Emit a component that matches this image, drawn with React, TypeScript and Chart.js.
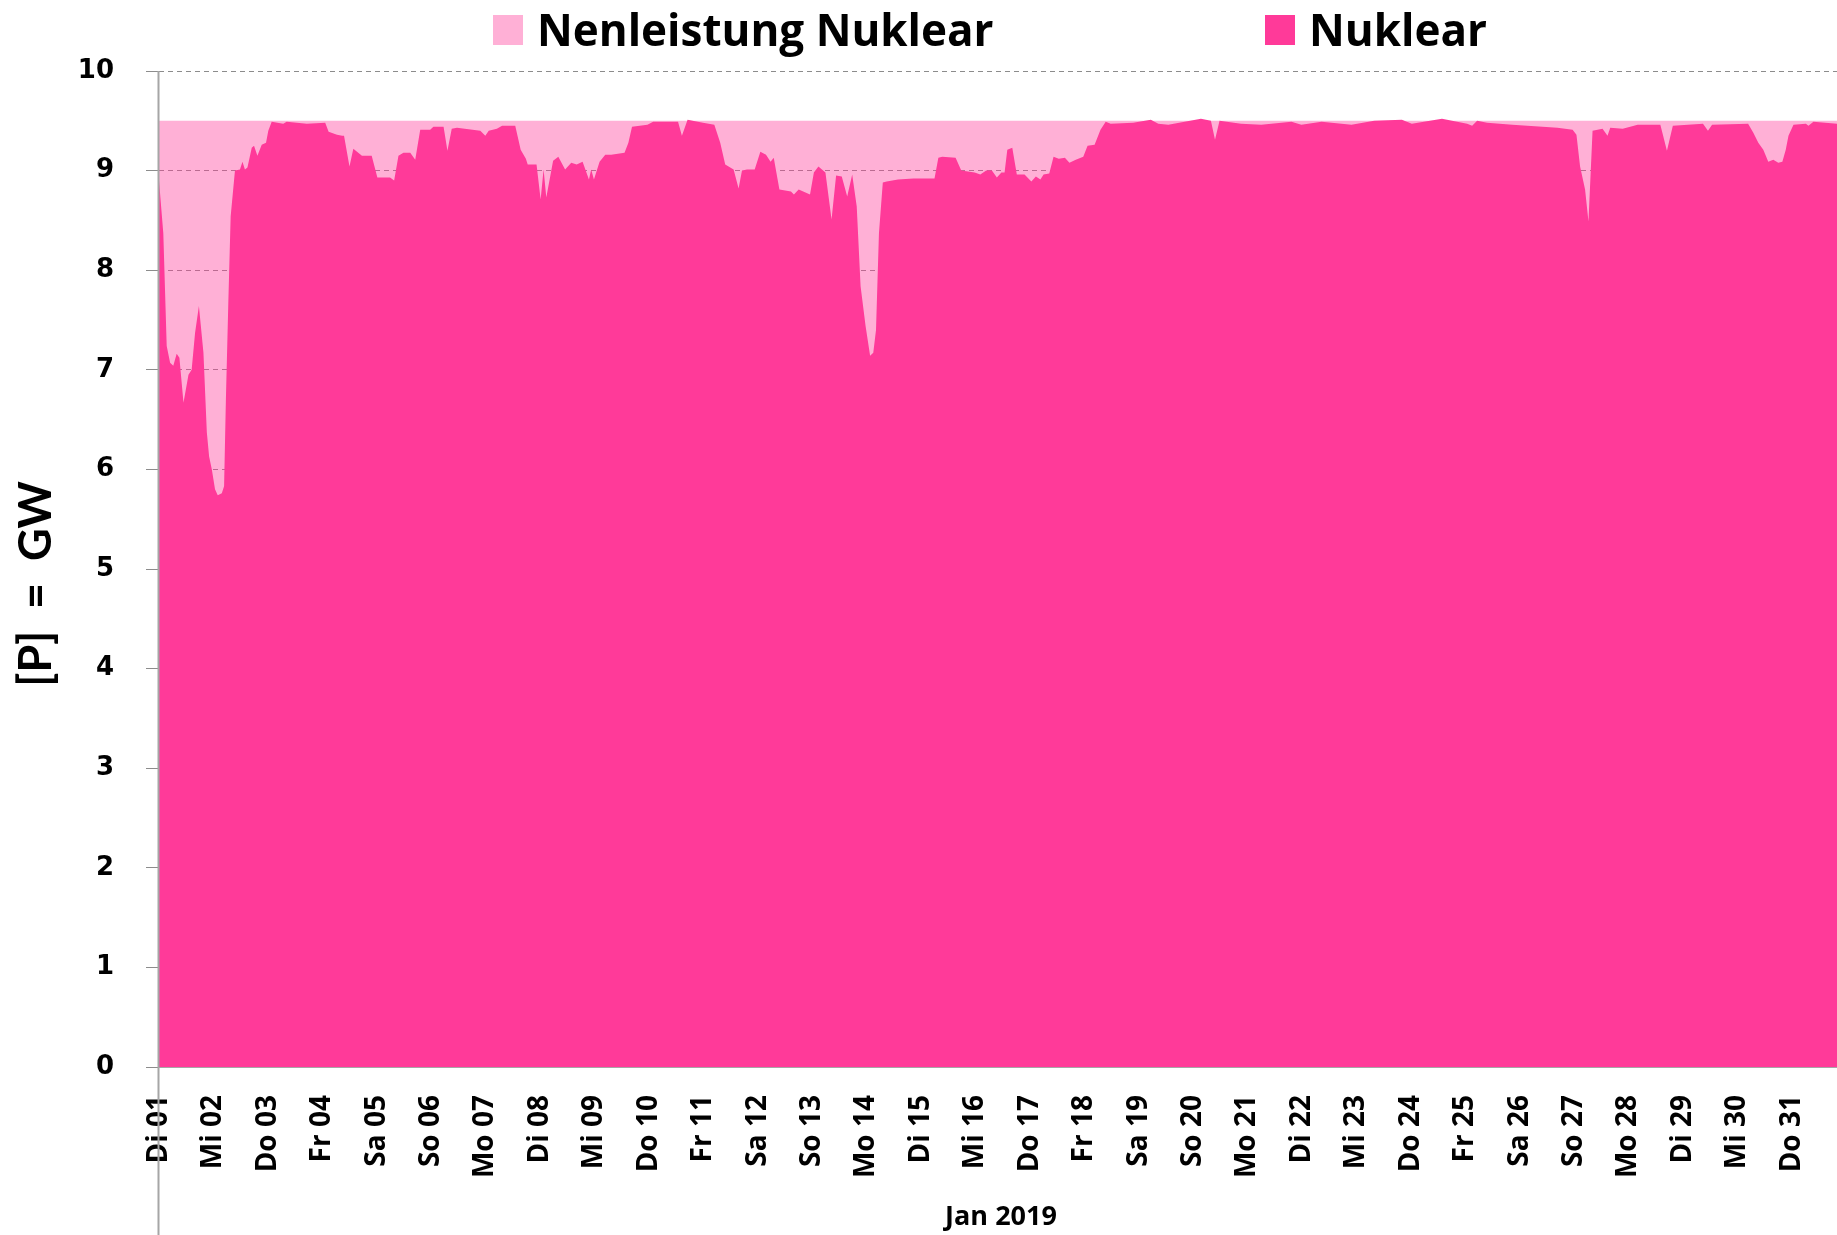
import React, { useEffect, useRef } from "react";
import { Chart, registerables } from "chart.js";

Chart.register(...registerables);

// hours since 2019-01-01 00:00
const hours = [
  0, 1.9, 3.4, 4.9, 6.3, 7.8, 9.0, 10.8, 13.0, 14.4, 15.9, 17.6, 19.6, 21.1, 22.1, 23.3, 24.7, 25.9, 27.7, 28.7,
  29.5, 30.6, 31.6, 33.5, 35.7, 36.8, 37.9, 39.0, 40.9, 41.9, 43.4, 45.3, 47.2, 48.2, 49.7, 54.8, 56.3, 65.2, 73.3, 74.8,
  78.5, 80.8, 81.6, 84.0, 85.7, 89.5, 93.8, 96.3, 101.9, 103.7, 105.6, 107.8, 110.8, 113.0, 115.2, 119.6, 121.0, 125.5, 127.2, 129.1,
  131.4, 141.7, 143.9, 145.4, 149.0, 151.3, 157.1, 159.5, 161.8, 162.6, 166.5, 168.3, 169.6, 170.8, 173.8, 176.1, 179.1, 181.8, 184.2, 186.8,
  189.6, 190.6, 191.8, 194.3, 196.8, 199.4, 205.3, 207.0, 208.6, 215.4, 217.9, 228.9, 230.6, 233.1, 239.9, 244.9, 247.5, 249.7, 253.4, 255.6,
  257.1, 259.3, 262.7, 265.2, 267.7, 269.7, 271.1, 273.6, 278.7, 280.0, 282.1, 287.1, 288.8, 290.8, 293.9, 296.6, 298.6, 301.1, 303.5, 305.7,
  307.7, 309.4, 311.6, 313.6, 315.0, 316.2, 317.5, 319.2, 320.9, 325.9, 332.7, 342.0, 343.7, 345.4, 351.3, 353.8, 359.7, 362.2, 364.8, 367.3,
  369.5, 371.5, 372.9, 374.1, 376.3, 378.3, 381.7, 384.7, 386.7, 388.7, 390.1, 392.6, 394.5, 396.8, 399.5, 401.5, 404.3, 407.6, 409.5, 412.6,
  415.2, 417.5, 419.7, 429.6, 437.4, 440.7, 445.1, 459.5, 463.9, 465.7, 467.7, 477.2, 486.1, 499.4, 503.8, 512.7, 525.9, 535.9, 548.1, 552.5,
  565.8, 576.9, 579.1, 581.3, 585.7, 596.8, 610.1, 616.7, 623.4, 625.1, 626.7, 628.9, 630.4, 632.2, 636.6, 638.8, 640.0, 645.5, 652.1, 662.1,
  665.0, 667.6, 680.9, 683.1, 684.9, 700.8, 703.1, 705.3, 707.5, 709.7, 711.9, 714.1, 715.9, 717.4, 718.6, 720.8, 726.3, 727.4, 729.6, 740.0,
];

// Nuklear in GW
const nuklear = [
  8.9, 8.37, 7.24, 7.07, 7.04, 7.16, 7.12, 6.67, 6.95, 7.0, 7.37, 7.64, 7.17, 6.37, 6.13, 6.0, 5.8, 5.74, 5.76, 5.83,
  6.7, 7.7, 8.54, 9.0, 9.01, 9.09, 9.01, 9.03, 9.23, 9.25, 9.15, 9.26, 9.28, 9.4, 9.49, 9.47, 9.49, 9.47, 9.48, 9.39,
  9.36, 9.35, 9.35, 9.04, 9.22, 9.15, 9.15, 8.93, 8.93, 8.9, 9.15, 9.18, 9.18, 9.11, 9.41, 9.41, 9.44, 9.44, 9.2, 9.42,
  9.43, 9.4, 9.35, 9.4, 9.42, 9.45, 9.45, 9.21, 9.12, 9.06, 9.06, 8.71, 9.01, 8.73, 9.1, 9.14, 9.01, 9.08, 9.06, 9.09,
  8.91, 9.01, 8.91, 9.09, 9.16, 9.16, 9.18, 9.28, 9.44, 9.46, 9.49, 9.49, 9.35, 9.51, 9.48, 9.46, 9.28, 9.06, 9.01, 8.82,
  9.0, 9.01, 9.01, 9.19, 9.16, 9.09, 9.13, 8.81, 8.79, 8.76, 8.81, 8.76, 8.98, 9.04, 8.98, 8.51, 8.95, 8.94, 8.74, 8.96,
  8.64, 7.84, 7.44, 7.14, 7.17, 7.4, 8.37, 8.88, 8.89, 8.91, 8.92, 8.92, 9.13, 9.14, 9.13, 9.0, 8.98, 8.96, 9.0, 9.0,
  8.93, 8.98, 8.98, 9.21, 9.23, 8.96, 8.96, 8.89, 8.94, 8.91, 8.96, 8.97, 9.14, 9.12, 9.13, 9.08, 9.11, 9.14, 9.25, 9.26,
  9.41, 9.49, 9.47, 9.48, 9.51, 9.47, 9.46, 9.52, 9.5, 9.31, 9.5, 9.47, 9.46, 9.49, 9.46, 9.49, 9.46, 9.5, 9.51, 9.47,
  9.52, 9.47, 9.45, 9.5, 9.48, 9.46, 9.44, 9.43, 9.41, 9.36, 9.04, 8.81, 8.49, 9.4, 9.42, 9.35, 9.43, 9.42, 9.46, 9.46,
  9.2, 9.45, 9.47, 9.4, 9.46, 9.47, 9.38, 9.28, 9.21, 9.09, 9.11, 9.08, 9.09, 9.21, 9.35, 9.46, 9.47, 9.45, 9.49, 9.47,
];

// Nennleistung (installed capacity), constant
const nennHours = [0, 740];
const nennleistung = [9.5, 9.5];

const dayTicks = [
  0, 24, 48, 72, 96, 120, 144, 168, 192, 216, 240, 264, 288, 312, 336, 360,
  384, 408, 432, 456, 480, 504, 528, 552, 576, 600, 624, 648, 672, 696, 720,
];
const dayLabels = [
  "Di 01", "Mi 02", "Do 03", "Fr 04", "Sa 05", "So 06", "Mo 07", "Di 08", "Mi 09", "Do 10", "Fr 11",
  "Sa 12", "So 13", "Mo 14", "Di 15", "Mi 16", "Do 17", "Fr 18", "Sa 19", "So 20", "Mo 21", "Di 22",
  "Mi 23", "Do 24", "Fr 25", "Sa 26", "So 27", "Mo 28", "Di 29", "Mi 30", "Do 31",
];

const legendLabels = ["Nenleistung Nuklear", "Nuklear"];
const xTitle = "Jan 2019";
const yTitle = "[P]  =  GW";

const W = 1837;
const H = 1235;
const DARK = "#FF3A99";
const LIGHT_FILL = "rgba(255,58,153,0.4)";
const LIGHT_SOLID = "#FFB0D6";
const LABEL_FONT = "'Open Sans', Lato, sans-serif";
const TITLE_FONT = "Lato, 'Open Sans', sans-serif";

const overlay = {
  id: "overlay",
  afterDatasetsDraw(chart: any) {
    const { ctx, chartArea } = chart;
    ctx.save();
    ctx.strokeStyle = "#a6a6a6";
    ctx.lineWidth = 2;
    ctx.beginPath();
    ctx.moveTo(chartArea.left - 0.5, chartArea.top);
    ctx.lineTo(chartArea.left - 0.5, H);
    ctx.stroke();
    ctx.restore();
  },
  afterDraw(chart: any) {
    const { ctx } = chart;
    ctx.save();
    ctx.fillStyle = "#000";
    // y title
    ctx.font = `bold 45px ${TITLE_FONT}`;
    ctx.textAlign = "center";
    ctx.textBaseline = "middle";
    ctx.translate(36, 584);
    ctx.rotate(-Math.PI / 2);
    ctx.fillText(yTitle, 0, 0);
    ctx.setTransform(1, 0, 0, 1, 0, 0);
    // x title
    ctx.font = `bold 27px ${LABEL_FONT}`;
    ctx.fillText(xTitle, 1001, 1217);
    // legend
    ctx.textAlign = "left";
    ctx.textBaseline = "alphabetic";
    ctx.font = `bold 44px ${LABEL_FONT}`;
    ctx.fillStyle = LIGHT_SOLID;
    ctx.fillRect(493, 15, 30, 30);
    ctx.fillStyle = "#000";
    ctx.fillText(legendLabels[0], 537, 46);
    ctx.fillStyle = DARK;
    ctx.fillRect(1265, 15, 30, 30);
    ctx.fillStyle = "#000";
    ctx.fillText(legendLabels[1], 1309, 46);
    ctx.restore();
  },
};

export default function App() {
  const ref = useRef<HTMLCanvasElement | null>(null);
  useEffect(() => {
    if (!ref.current) return;
    const chart = new Chart(ref.current, {
      type: "line",
      data: {
        datasets: [
          {
            label: legendLabels[1],
            data: hours.map((h, i) => ({ x: h, y: nuklear[i] })),
            backgroundColor: DARK,
            borderColor: DARK,
            borderWidth: 0,
            pointRadius: 0,
            fill: "origin",
            tension: 0,
            order: 0,
          },
          {
            label: legendLabels[0],
            data: nennHours.map((h, i) => ({ x: h, y: nennleistung[i] })),
            backgroundColor: LIGHT_FILL,
            borderColor: LIGHT_FILL,
            borderWidth: 0,
            pointRadius: 0,
            fill: "origin",
            tension: 0,
            order: 1,
          },
        ],
      },
      options: {
        responsive: false,
        animation: false,
        devicePixelRatio: 1,
        layout: { padding: { top: 71, left: 0, right: 0, bottom: 0 } },
        plugins: { legend: { display: false }, tooltip: { enabled: false }, title: { display: false } },
        scales: {
          x: {
            type: "linear",
            min: 0,
            max: 740,
            afterBuildTicks: (scale: any) => {
              scale.ticks = dayTicks.map((v) => ({ value: v }));
            },
            afterFit: (scale: any) => {
              scale.height = 168;
              scale.paddingLeft = 0;
              scale.paddingRight = 0;
            },
            grid: { display: false },
            border: { display: true, color: "#a6a6a6", width: 2 },
            ticks: {
              autoSkip: false,
              maxRotation: 90,
              minRotation: 90,
              padding: 20,
              color: "#000",
              font: { family: LABEL_FONT, weight: "bold", size: 28 },
              callback: (v: any) => dayLabels[Math.round(Number(v) / 24)] ?? "",
            },
          },
          y: {
            min: 0,
            max: 10,
            afterFit: (scale: any) => {
              scale.width = 159;
              scale.paddingTop = 0;
              scale.paddingBottom = 0;
            },
            grid: {
              color: "#8c8c8c",
              lineWidth: 1,
              tickLength: 13,
              tickColor: "#8c8c8c",
              tickBorderDash: [],
            },
            border: { display: false, dash: [5, 4] },
            ticks: {
              stepSize: 1,
              padding: 32,
              color: "#000",
              font: { family: "'DejaVu Sans', sans-serif", weight: "bold", size: 26 },
            },
          },
        },
      },
      plugins: [overlay],
    } as any);
    return () => chart.destroy();
  }, []);
  return (
    <div style={{ position: "absolute", left: 0, top: 0, width: W, height: H, background: "#fff" }}>
      <canvas ref={ref} width={W} height={H} style={{ width: W, height: H, display: "block" }} />
    </div>
  );
}
